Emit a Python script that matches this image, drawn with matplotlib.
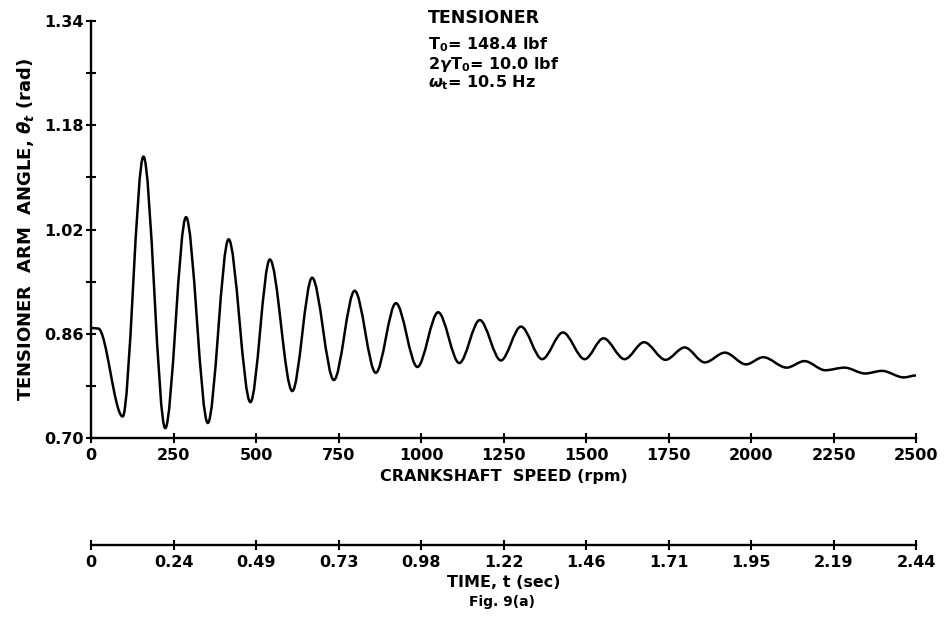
import numpy as np
import matplotlib
matplotlib.use("Agg")
import matplotlib.pyplot as plt
from matplotlib.path import Path
from matplotlib.patches import PathPatch

plt.rcParams['font.family'] = ['DejaVu Sans']
plt.rcParams['font.weight'] = 'bold'
plt.rcParams['axes.labelweight'] = 'bold'

# turning points of the tensioner arm trace
speed = [0, 22, 96, 159, 225, 288, 354, 417, 483, 542, 610, 670, 736, 799,
         863, 924, 989, 1052, 1116, 1178, 1242, 1303, 1367, 1430, 1496, 1553,
         1617, 1676, 1741, 1799, 1860, 1921, 1985, 2037, 2108, 2162, 2225,
         2283, 2346, 2397, 2463, 2500]
angle = [0.869, 0.868, 0.733, 1.132, 0.715, 1.039, 0.723, 1.005, 0.755, 0.974,
         0.772, 0.946, 0.789, 0.926, 0.800, 0.907, 0.809, 0.893, 0.815, 0.881,
         0.819, 0.871, 0.821, 0.862, 0.821, 0.853, 0.821, 0.847, 0.820, 0.839,
         0.816, 0.831, 0.813, 0.824, 0.808, 0.818, 0.804, 0.808, 0.799, 0.803,
         0.793, 0.796]

rpm_ticks = [0, 250, 500, 750, 1000, 1250, 1500, 1750, 2000, 2250, 2500]
time_labels = ['0', '0.24', '0.49', '0.73', '0.98', '1.22', '1.46', '1.71',
               '1.95', '2.19', '2.44']
y_major = [0.70, 0.86, 1.02, 1.18, 1.34]
y_minor = [0.78, 0.94, 1.10, 1.26]

W, H = 947, 625
fig = plt.figure(figsize=(W / 100, H / 100), dpi=100)
ax = fig.add_axes([91 / W, 1 - 438 / H, 825 / W, 417 / H])

# smooth trace: cubic segments with flat tangents at each turning point
verts = [(speed[0], angle[0])]
codes = [Path.MOVETO]
for i in range(len(speed) - 1):
    x0, y0, x1, y1 = speed[i], angle[i], speed[i + 1], angle[i + 1]
    dx = x1 - x0
    verts += [(x0 + dx / 3, y0), (x1 - dx / 3, y1), (x1, y1)]
    codes += [Path.CURVE4] * 3
ax.add_patch(PathPatch(Path(verts, codes), facecolor='none', edgecolor='black',
                       lw=1.8, capstyle='round', joinstyle='round'))

ax.set_xlim(0, 2500)
ax.set_ylim(0.70, 1.34)
for s in ['top', 'right']:
    ax.spines[s].set_visible(False)
for s in ['left', 'bottom']:
    ax.spines[s].set_linewidth(1.7)
ax.set_xticks(rpm_ticks)
ax.set_xticklabels([str(t) for t in rpm_ticks])
ax.set_yticks(y_major)
ax.set_yticklabels(['%.2f' % v for v in y_major])
ax.set_yticks(y_minor, minor=True)
ax.tick_params(which='both', direction='inout', length=7, width=1.5,
               labelsize=11.5, pad=2)
ax.tick_params(axis='x', pad=4)
ax.set_xlabel('CRANKSHAFT  SPEED (rpm)', fontsize=11.5, labelpad=4)
ax.set_ylabel(r'TENSIONER  ARM  ANGLE, $\theta_t$ (rad)', fontsize=13, labelpad=6)

# secondary time scale below
tax = fig.add_axes([91 / W, 1 - 545 / H, 825 / W, 0.001])
tax.set_xlim(0, 2.44)
tax.set_xticks(np.array(rpm_ticks) / 2500 * 2.44)
tax.set_xticklabels(time_labels)
tax.set_yticks([])
for s in ['top', 'right', 'left']:
    tax.spines[s].set_visible(False)
tax.spines['bottom'].set_linewidth(1.7)
tax.patch.set_visible(False)
tax.tick_params(direction='inout', length=7, width=1.5, labelsize=11.5, pad=4)
tax.set_xlabel('TIME, t (sec)', fontsize=11.5, labelpad=3)

fig.text(502 / W, 1 - 602 / H, 'Fig. 9(a)', fontsize=10, ha='center', va='center')

# parameter block
tx = 428 / W
fig.text(tx, 1 - 18 / H, 'TENSIONER', fontsize=12.5, va='center')
fig.text(tx, 1 - 45 / H, r'T$_\mathbf{0}$= 148.4 lbf', fontsize=11.5, va='center')
fig.text(tx, 1 - 64 / H, r'2$\gamma$T$_\mathbf{0}$= 10.0 lbf', fontsize=11.5, va='center')
fig.text(tx, 1 - 83 / H, r'$\omega_\mathbf{t}$= 10.5 Hz', fontsize=11.5, va='center')

fig.savefig('out.png', dpi=100, facecolor='white')
